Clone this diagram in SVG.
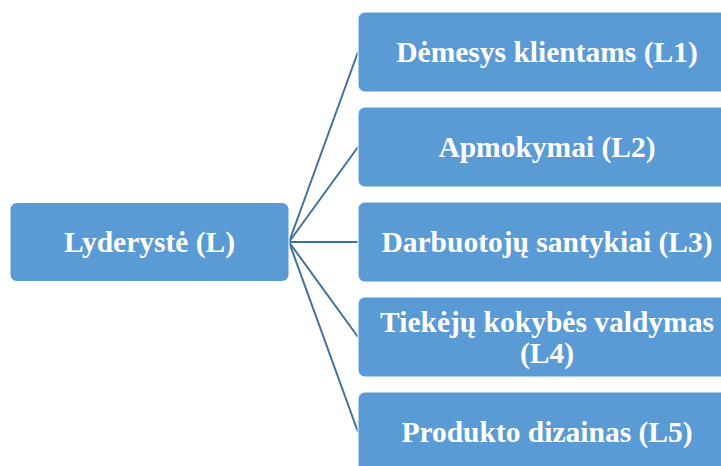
<svg xmlns="http://www.w3.org/2000/svg" width="721" height="466" viewBox="0 0 721 466">
  <style>
    .box { fill: #5b9bd5; stroke: #ffffff; stroke-width: 1; }
    .lbl { fill: #ffffff; font-family: 'Liberation Serif', serif; font-weight: 700; font-size: 29.5px; text-anchor: middle; }
    .link { stroke: #41719c; stroke-width: 2; fill: none; }
  </style>
  <rect width="721" height="466" fill="#ffffff"/>
  <g id="connectors">
    <line class="link" x1="289" y1="242" x2="358" y2="52"/>
    <line class="link" x1="289" y1="242" x2="358" y2="147"/>
    <line class="link" x1="289" y1="242" x2="358" y2="242"/>
    <line class="link" x1="289" y1="242" x2="358" y2="337"/>
    <line class="link" x1="289" y1="242" x2="358" y2="432"/>
  </g>
  <g id="L">
    <rect class="box" x="10" y="202.5" width="279" height="79" rx="7"/>
    <text class="lbl" x="149.5" y="252">Lyderystė (L)</text>
  </g>
  <g id="L1">
    <rect class="box" x="358" y="12" width="380" height="80" rx="7"/>
    <text class="lbl" x="547" y="62">Dėmesys klientams (L1)</text>
  </g>
  <g id="L2">
    <rect class="box" x="358" y="107" width="380" height="80" rx="7"/>
    <text class="lbl" x="547" y="157">Apmokymai (L2)</text>
  </g>
  <g id="L3">
    <rect class="box" x="358" y="202" width="380" height="80" rx="7"/>
    <text class="lbl" x="547" y="252">Darbuotojų santykiai (L3)</text>
  </g>
  <g id="L4">
    <rect class="box" x="358" y="297" width="380" height="80" rx="7"/>
    <text class="lbl" x="547" y="332">Tiekėjų kokybės valdymas</text>
    <text class="lbl" x="547" y="363">(L4)</text>
  </g>
  <g id="L5">
    <rect class="box" x="358" y="392" width="380" height="80" rx="7"/>
    <text class="lbl" x="547" y="442">Produkto dizainas (L5)</text>
  </g>
</svg>
